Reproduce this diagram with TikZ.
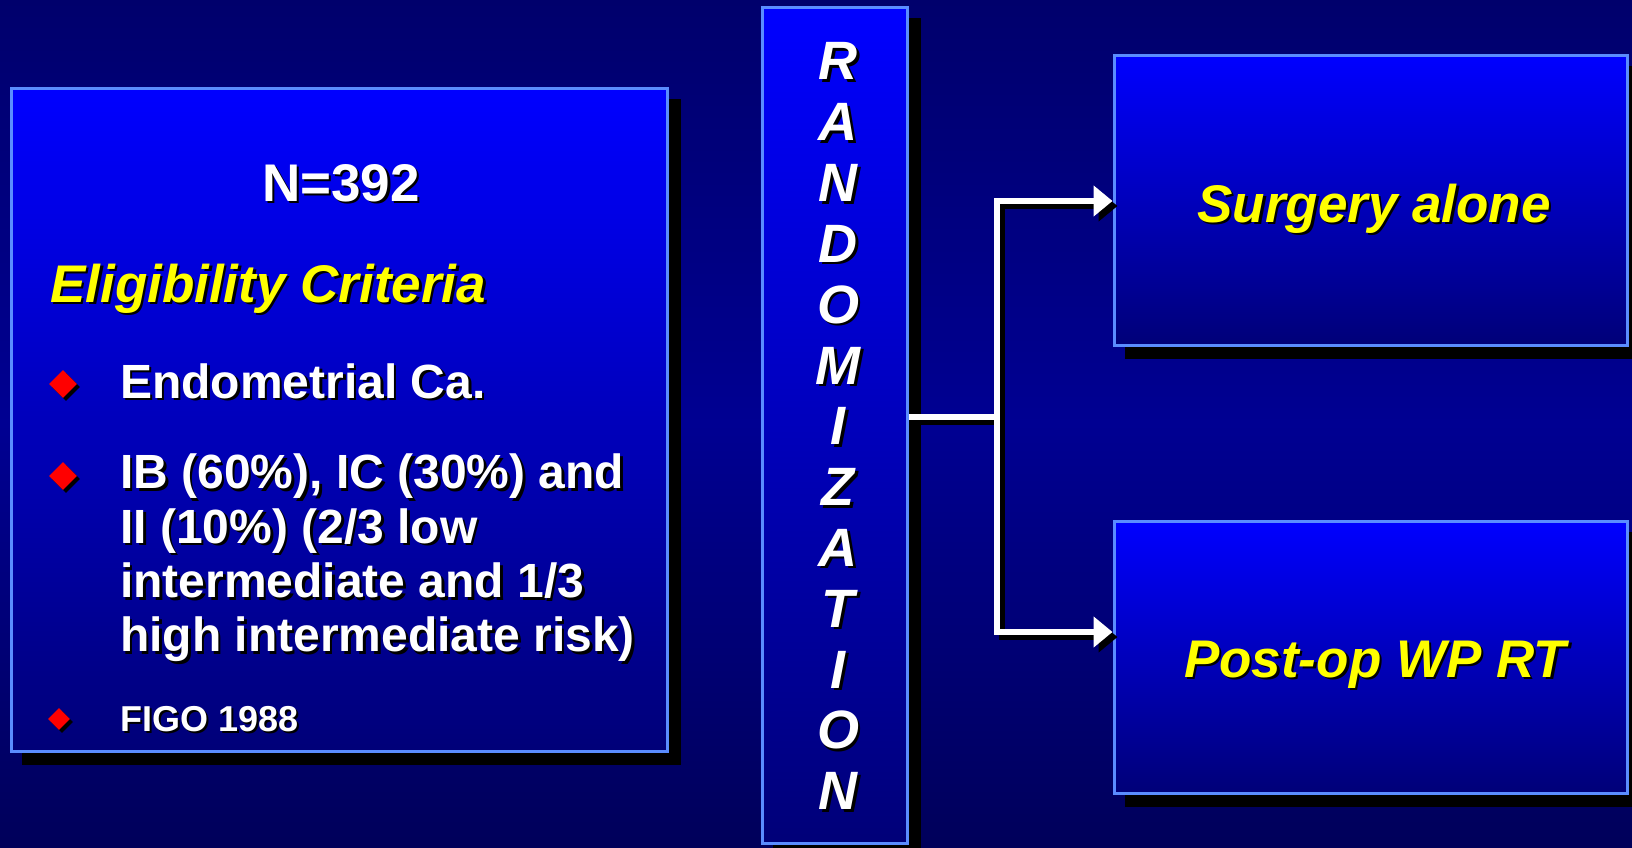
\documentclass[tikz,border=0pt]{standalone}
\usepackage{fontspec}
\setmainfont{Liberation Sans}
\usetikzlibrary{shadows,shapes.geometric,arrows.meta}

\definecolor{bgtop}{HTML}{00006C}
\definecolor{bgmid}{HTML}{000092}
\definecolor{bgbot}{HTML}{00005A}
\definecolor{boxtop}{HTML}{0000FF}
\definecolor{boxbot}{HTML}{000078}
\definecolor{edge}{HTML}{5A8CFF}
\definecolor{gold}{HTML}{FFFF00}
\definecolor{bullet}{HTML}{FF0000}

\pgfdeclarelayer{back}
\pgfdeclarelayer{shade}
\pgfsetlayers{back,shade,main}

% text with a small black drop shadow
\newcommand\shtext[1]{\leavevmode\rlap{\kern2.5pt\raisebox{-2.5pt}{\color{black}#1}}#1}

\tikzset{
  panel/.style={rectangle, draw=edge, line width=3pt, top color=boxtop,
    bottom color=boxbot, inner sep=0pt},
  txt/.style={inner sep=0pt, text=white, font=\bfseries\fontsize{48}{54.3}\selectfont},
  title/.style={txt, text=gold, font=\bfseries\itshape\fontsize{53}{60}\selectfont},
  letter/.style={txt, anchor=base, font=\bfseries\itshape\fontsize{54}{60}\selectfont},
  mark/.style={diamond, fill=bullet, inner sep=0pt, minimum size=#1,
    drop shadow={shadow xshift=3pt, shadow yshift=-3pt, fill=black, opacity=1}},
  link/.style={draw=white, line width=5.5pt, line join=miter},
  linkshadow/.style={draw=black, line width=5.5pt, line join=miter},
  tip/.style={-{Triangle[length=19pt,width=30pt]}},
}

\begin{document}
\begin{tikzpicture}[x=1pt,y=-1pt]
\useasboundingbox (0,0) rectangle (1632,848);
\begin{pgfonlayer}{back}
  \fill[top color=bgtop, bottom color=bgbot, middle color=bgmid] (0,0) rectangle (1632,848);
\end{pgfonlayer}

% boxes
\node[panel, minimum width=656pt, minimum height=662pt] (elig) at (339,420) {};
\node[panel, minimum width=145pt, minimum height=835pt] (rand) at (834.5,425.5) {};
\node[panel, minimum width=513pt, minimum height=289pt] (surg) at (1370.5,200.5) {};
\node[panel, minimum width=513pt, minimum height=272pt] (post) at (1370.5,657) {};

% box shadows
\begin{pgfonlayer}{shade}
  \foreach \b in {elig,rand,surg,post}
    \fill[black] ([shift={(12,12)}]\b.north west) rectangle ([shift={(12,12)}]\b.south east);
\end{pgfonlayer}

% eligibility panel
\node[txt, anchor=base] (n) at (341,201) {\fontsize{53}{60}\selectfont\shtext{N=392}};
\node[title, anchor=base west] (crit) at (50,302) {\shtext{Eligibility Criteria}};
\node[mark=28pt] (m1) at (63,384) {};
\node[txt, anchor=base west] (c1) at (120,398) {\shtext{Endometrial Ca.}};
\node[mark=28pt] (m2) at (63,476) {};
\node[txt, anchor=north west, align=left] (c2) at (120,454)
  {\shtext{IB (60\%), IC (30\%) and}\\ \shtext{II (10\%) (2/3 low}\\
   \shtext{intermediate and 1/3}\\ \shtext{high intermediate risk)}};
\node[mark=22pt] (m3) at (59,719) {};
\node[txt, anchor=base west, font=\bfseries\fontsize{36}{42}\selectfont] (c3) at (120,731) {\shtext{FIGO 1988}};

% vertical label
\foreach \l [count=\i from 0] in {R,A,N,D,O,M,I,Z,A,T,I,O,N}
  \node[letter] (r\i) at (838,80+60.8*\i) {\shtext{\l}};

% arms
\node[title, anchor=base] (s1) at (1374,222) {\shtext{Surgery alone}};
\node[title, anchor=base] (s2) at (1375,677) {\shtext{Post-op WP RT}};

% connectors
\coordinate (split) at (997,417);
\coordinate (upper) at (997,201);
\coordinate (lower) at (997,632);
\begin{scope}[transform canvas={shift={(5pt,-5pt)}}]
  \draw[linkshadow] (rand.east |- split) -- (split);
  \draw[linkshadow, tip] (split) -- (upper) -- (surg.west |- upper);
  \draw[linkshadow, tip] (split) -- (lower) -- (post.west |- lower);
\end{scope}
\draw[link] (rand.east |- split) -- (split);
\draw[link, tip] (split) -- (upper) -- (surg.west |- upper);
\draw[link, tip] (split) -- (lower) -- (post.west |- lower);
\end{tikzpicture}
\end{document}
